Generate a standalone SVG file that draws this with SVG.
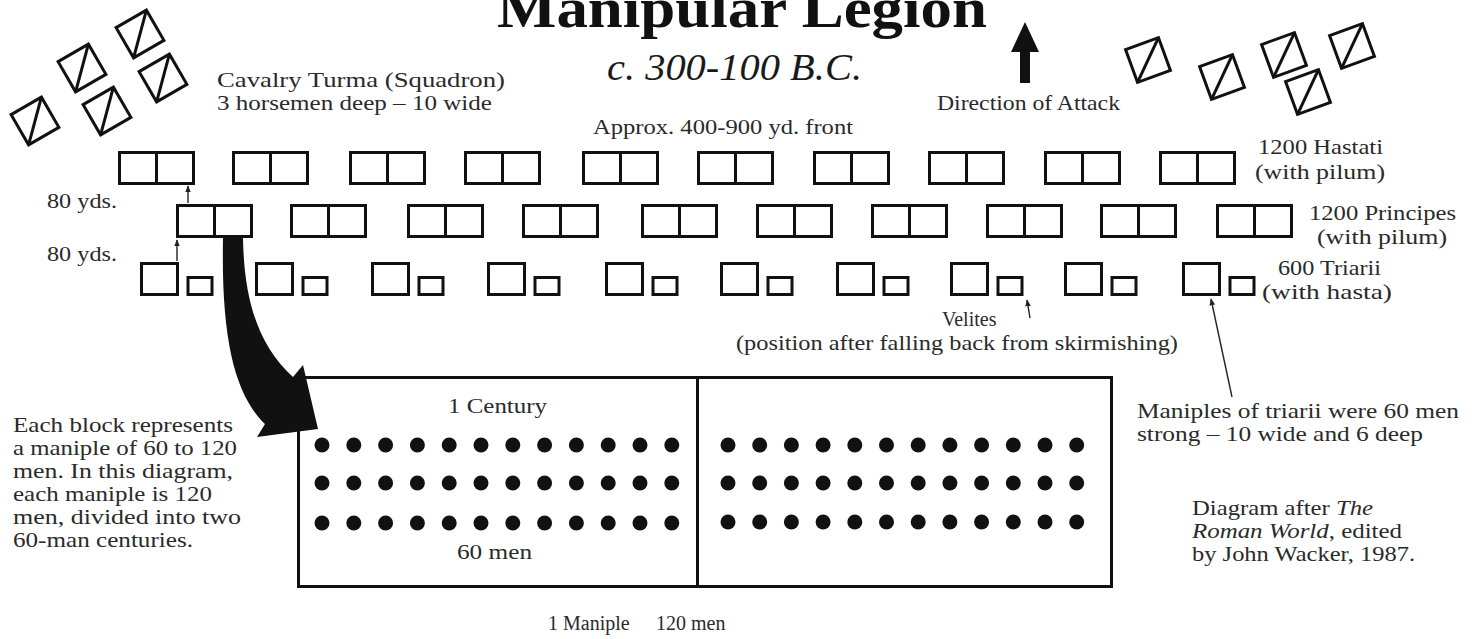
<svg xmlns="http://www.w3.org/2000/svg" xmlns:xlink="http://www.w3.org/1999/xlink" width="1473" height="639" viewBox="0 0 1473 639">
<style>
  .t{font-family:"Liberation Serif","Times New Roman",serif;font-size:21px;fill:#2a2a2a}
  .blk{fill:none;stroke:#111;stroke-width:3}
  .thin{fill:none;stroke:#222;stroke-width:1.4}
  .dot{fill:#111}
</style>
<defs>
  <g id="cav"><rect x="-17.5" y="-17.5" width="35" height="35" class="blk"/><line x1="17.5" y1="-17.5" x2="-17.5" y2="17.5" class="blk"/></g>
  <g id="hp"><rect x="1.5" y="1.5" width="74" height="31" class="blk"/><line x1="38.5" y1="1.5" x2="38.5" y2="32.5" class="blk"/></g>
  <g id="tr"><rect x="1.5" y="1.5" width="36" height="31" class="blk"/><rect x="48" y="15.5" width="24" height="17" class="blk"/></g>
  <marker id="ah" viewBox="0 0 10 10" refX="9" refY="5" markerWidth="7" markerHeight="7" orient="auto" markerUnits="userSpaceOnUse"><path d="M0,1 L10,5 L0,9 z" fill="#222"/></marker>
</defs>
<rect width="1473" height="639" fill="#fff"/>

<g id="title">
  <text x="497" y="27" class="t" style="font-size:58px;font-weight:bold;fill:#111" textLength="490" lengthAdjust="spacingAndGlyphs">Manipular Legion</text>
  <text x="607" y="80" class="t" style="font-size:37px;font-style:italic;fill:#1a1a1a" textLength="255" lengthAdjust="spacingAndGlyphs">c. 300-100 B.C.</text>
</g>

<g id="cavalry-left">
  <use xlink:href="#cav" transform="translate(140,34) rotate(-30)"/>
  <use xlink:href="#cav" transform="translate(82,68) rotate(-30)"/>
  <use xlink:href="#cav" transform="translate(163,78) rotate(-30)"/>
  <use xlink:href="#cav" transform="translate(35,121) rotate(-30)"/>
  <use xlink:href="#cav" transform="translate(107,111) rotate(-30)"/>
</g>
<g id="cavalry-right">
  <use xlink:href="#cav" transform="translate(1148,60) rotate(-20)"/>
  <use xlink:href="#cav" transform="translate(1222,77) rotate(-20)"/>
  <use xlink:href="#cav" transform="translate(1284,55) rotate(-20)"/>
  <use xlink:href="#cav" transform="translate(1352,46) rotate(-20)"/>
  <use xlink:href="#cav" transform="translate(1308,92) rotate(-20)"/>
</g>
<g id="cavalry-label">
  <text x="217" y="87" class="t" textLength="288" lengthAdjust="spacingAndGlyphs">Cavalry Turma (Squadron)</text>
  <text x="217" y="110" class="t" textLength="275" lengthAdjust="spacingAndGlyphs">3 horsemen deep – 10 wide</text>
</g>

<g id="direction">
  <path d="M1025,22 L1039,52 L1030,52 L1030,83 L1020,83 L1020,52 L1011,52 Z" fill="#111"/>
  <text x="937" y="110" class="t" textLength="183" lengthAdjust="spacingAndGlyphs">Direction of Attack</text>
</g>

<g id="front-label">
  <text x="593" y="134" class="t" textLength="260" lengthAdjust="spacingAndGlyphs">Approx. 400-900 yd. front</text>
</g>

<g id="hastati">
  <use xlink:href="#hp" x="118" y="151"/>
  <use xlink:href="#hp" x="232" y="151"/>
  <use xlink:href="#hp" x="349" y="151"/>
  <use xlink:href="#hp" x="464" y="151"/>
  <use xlink:href="#hp" x="582" y="151"/>
  <use xlink:href="#hp" x="697" y="151"/>
  <use xlink:href="#hp" x="813" y="151"/>
  <use xlink:href="#hp" x="928" y="151"/>
  <use xlink:href="#hp" x="1044" y="151"/>
  <use xlink:href="#hp" x="1159" y="151"/>
  <text x="1258" y="154" class="t" textLength="125" lengthAdjust="spacingAndGlyphs">1200 Hastati</text>
  <text x="1255" y="179" class="t" textLength="130" lengthAdjust="spacingAndGlyphs">(with pilum)</text>
</g>

<g id="principes">
  <use xlink:href="#hp" x="176" y="204"/>
  <use xlink:href="#hp" x="290" y="204"/>
  <use xlink:href="#hp" x="407" y="204"/>
  <use xlink:href="#hp" x="522" y="204"/>
  <use xlink:href="#hp" x="641" y="204"/>
  <use xlink:href="#hp" x="756" y="204"/>
  <use xlink:href="#hp" x="871" y="204"/>
  <use xlink:href="#hp" x="986" y="204"/>
  <use xlink:href="#hp" x="1100" y="204"/>
  <use xlink:href="#hp" x="1216" y="204"/>
  <text x="1309" y="220" class="t" textLength="147" lengthAdjust="spacingAndGlyphs">1200 Principes</text>
  <text x="1317" y="244" class="t" textLength="130" lengthAdjust="spacingAndGlyphs">(with pilum)</text>
</g>

<g id="triarii">
  <use xlink:href="#tr" x="140" y="262"/>
  <use xlink:href="#tr" x="255" y="262"/>
  <use xlink:href="#tr" x="371" y="262"/>
  <use xlink:href="#tr" x="487" y="262"/>
  <use xlink:href="#tr" x="605" y="262"/>
  <use xlink:href="#tr" x="720" y="262"/>
  <use xlink:href="#tr" x="836" y="262"/>
  <use xlink:href="#tr" x="950" y="262"/>
  <use xlink:href="#tr" x="1064" y="262"/>
  <use xlink:href="#tr" x="1182" y="262"/>
  <text x="1278" y="275" class="t" textLength="103" lengthAdjust="spacingAndGlyphs">600 Triarii</text>
  <text x="1262" y="299" class="t" textLength="130" lengthAdjust="spacingAndGlyphs">(with hasta)</text>
</g>

<g id="spacing-labels">
  <text x="47" y="208" class="t" textLength="70" lengthAdjust="spacingAndGlyphs">80 yds.</text>
  <text x="47" y="261" class="t" textLength="70" lengthAdjust="spacingAndGlyphs">80 yds.</text>
</g>

<g id="velites-label">
  <text x="942" y="326" class="t" style="font-size:20px">Velites</text>
  <text x="736" y="350" class="t" textLength="442" lengthAdjust="spacingAndGlyphs">(position after falling back from skirmishing)</text>
</g>

<g id="maniple-detail">
  <rect x="298.5" y="377.5" width="813" height="209" class="blk"/>
  <line x1="697.5" y1="377.5" x2="697.5" y2="586.5" class="blk"/>
  <g id="century-left">
    <g class="dot">
      <circle cx="322" cy="445" r="7.5"/><circle cx="353.8" cy="445" r="7.5"/><circle cx="385.6" cy="445" r="7.5"/><circle cx="417.4" cy="445" r="7.5"/><circle cx="449.2" cy="445" r="7.5"/><circle cx="481" cy="445" r="7.5"/><circle cx="512.8" cy="445" r="7.5"/><circle cx="544.6" cy="445" r="7.5"/><circle cx="576.4" cy="445" r="7.5"/><circle cx="608.2" cy="445" r="7.5"/><circle cx="640" cy="445" r="7.5"/><circle cx="671.8" cy="445" r="7.5"/>
      <circle cx="322" cy="483" r="7.5"/><circle cx="353.8" cy="483" r="7.5"/><circle cx="385.6" cy="483" r="7.5"/><circle cx="417.4" cy="483" r="7.5"/><circle cx="449.2" cy="483" r="7.5"/><circle cx="481" cy="483" r="7.5"/><circle cx="512.8" cy="483" r="7.5"/><circle cx="544.6" cy="483" r="7.5"/><circle cx="576.4" cy="483" r="7.5"/><circle cx="608.2" cy="483" r="7.5"/><circle cx="640" cy="483" r="7.5"/><circle cx="671.8" cy="483" r="7.5"/>
      <circle cx="322" cy="523" r="7.5"/><circle cx="353.8" cy="523" r="7.5"/><circle cx="385.6" cy="523" r="7.5"/><circle cx="417.4" cy="523" r="7.5"/><circle cx="449.2" cy="523" r="7.5"/><circle cx="481" cy="523" r="7.5"/><circle cx="512.8" cy="523" r="7.5"/><circle cx="544.6" cy="523" r="7.5"/><circle cx="576.4" cy="523" r="7.5"/><circle cx="608.2" cy="523" r="7.5"/><circle cx="640" cy="523" r="7.5"/><circle cx="671.8" cy="523" r="7.5"/>
    </g>
    <text x="448" y="413" class="t" textLength="99" lengthAdjust="spacingAndGlyphs">1 Century</text>
    <text x="457" y="559" class="t" textLength="75" lengthAdjust="spacingAndGlyphs">60 men</text>
  </g>
  <g id="century-right" class="dot">
    <circle cx="728" cy="445" r="7.5"/><circle cx="759.7" cy="445" r="7.5"/><circle cx="791.4" cy="445" r="7.5"/><circle cx="823.1" cy="445" r="7.5"/><circle cx="854.8" cy="445" r="7.5"/><circle cx="886.5" cy="445" r="7.5"/><circle cx="918.2" cy="445" r="7.5"/><circle cx="949.9" cy="445" r="7.5"/><circle cx="981.6" cy="445" r="7.5"/><circle cx="1013.3" cy="445" r="7.5"/><circle cx="1045" cy="445" r="7.5"/><circle cx="1076.7" cy="445" r="7.5"/>
    <circle cx="728" cy="483" r="7.5"/><circle cx="759.7" cy="483" r="7.5"/><circle cx="791.4" cy="483" r="7.5"/><circle cx="823.1" cy="483" r="7.5"/><circle cx="854.8" cy="483" r="7.5"/><circle cx="886.5" cy="483" r="7.5"/><circle cx="918.2" cy="483" r="7.5"/><circle cx="949.9" cy="483" r="7.5"/><circle cx="981.6" cy="483" r="7.5"/><circle cx="1013.3" cy="483" r="7.5"/><circle cx="1045" cy="483" r="7.5"/><circle cx="1076.7" cy="483" r="7.5"/>
    <circle cx="728" cy="522" r="7.5"/><circle cx="759.7" cy="522" r="7.5"/><circle cx="791.4" cy="522" r="7.5"/><circle cx="823.1" cy="522" r="7.5"/><circle cx="854.8" cy="522" r="7.5"/><circle cx="886.5" cy="522" r="7.5"/><circle cx="918.2" cy="522" r="7.5"/><circle cx="949.9" cy="522" r="7.5"/><circle cx="981.6" cy="522" r="7.5"/><circle cx="1013.3" cy="522" r="7.5"/><circle cx="1045" cy="522" r="7.5"/><circle cx="1076.7" cy="522" r="7.5"/>
  </g>
  <text x="548" y="630" class="t" style="font-size:20px">1 Maniple</text>
  <text x="656" y="630" class="t" style="font-size:20px">120 men</text>
</g>

<g id="explanation">
  <text x="13" y="432" class="t" textLength="220" lengthAdjust="spacingAndGlyphs">Each block represents</text>
  <text x="13" y="455" class="t" textLength="224" lengthAdjust="spacingAndGlyphs">a maniple of 60 to 120</text>
  <text x="13" y="478" class="t" textLength="220" lengthAdjust="spacingAndGlyphs">men. In this diagram,</text>
  <text x="13" y="501" class="t" textLength="199" lengthAdjust="spacingAndGlyphs">each maniple is 120</text>
  <text x="13" y="524" class="t" textLength="228" lengthAdjust="spacingAndGlyphs">men, divided into two</text>
  <text x="13" y="547" class="t" textLength="180" lengthAdjust="spacingAndGlyphs">60-man centuries.</text>
</g>

<g id="triarii-note">
  <text x="1137" y="418" class="t" textLength="322" lengthAdjust="spacingAndGlyphs">Maniples of triarii were 60 men</text>
  <text x="1137" y="441" class="t" textLength="286" lengthAdjust="spacingAndGlyphs">strong – 10 wide and 6 deep</text>
</g>

<g id="source">
  <text x="1192" y="515" class="t" textLength="181" lengthAdjust="spacingAndGlyphs">Diagram after <tspan font-style="italic">The</tspan></text>
  <text x="1192" y="538" class="t" textLength="210" lengthAdjust="spacingAndGlyphs"><tspan font-style="italic">Roman World</tspan>, edited</text>
  <text x="1192" y="561" class="t" textLength="223" lengthAdjust="spacingAndGlyphs">by John Wacker, 1987.</text>
</g>

<g id="connectors">
  <path d="M223,238 L243,238 C244,300 258,345 293,377 L303,365 L318,429 L257,437 L265,424 C235,395 221,340 223,238 Z" fill="#111"/>
  <line x1="188" y1="203" x2="188" y2="186" class="thin" marker-end="url(#ah)"/>
  <line x1="177" y1="261" x2="177" y2="240" class="thin" marker-end="url(#ah)"/>
  <line x1="1030" y1="318" x2="1027" y2="300" class="thin" marker-end="url(#ah)"/>
  <line x1="1232" y1="397" x2="1211" y2="299" class="thin" marker-end="url(#ah)"/>
</g>
</svg>
